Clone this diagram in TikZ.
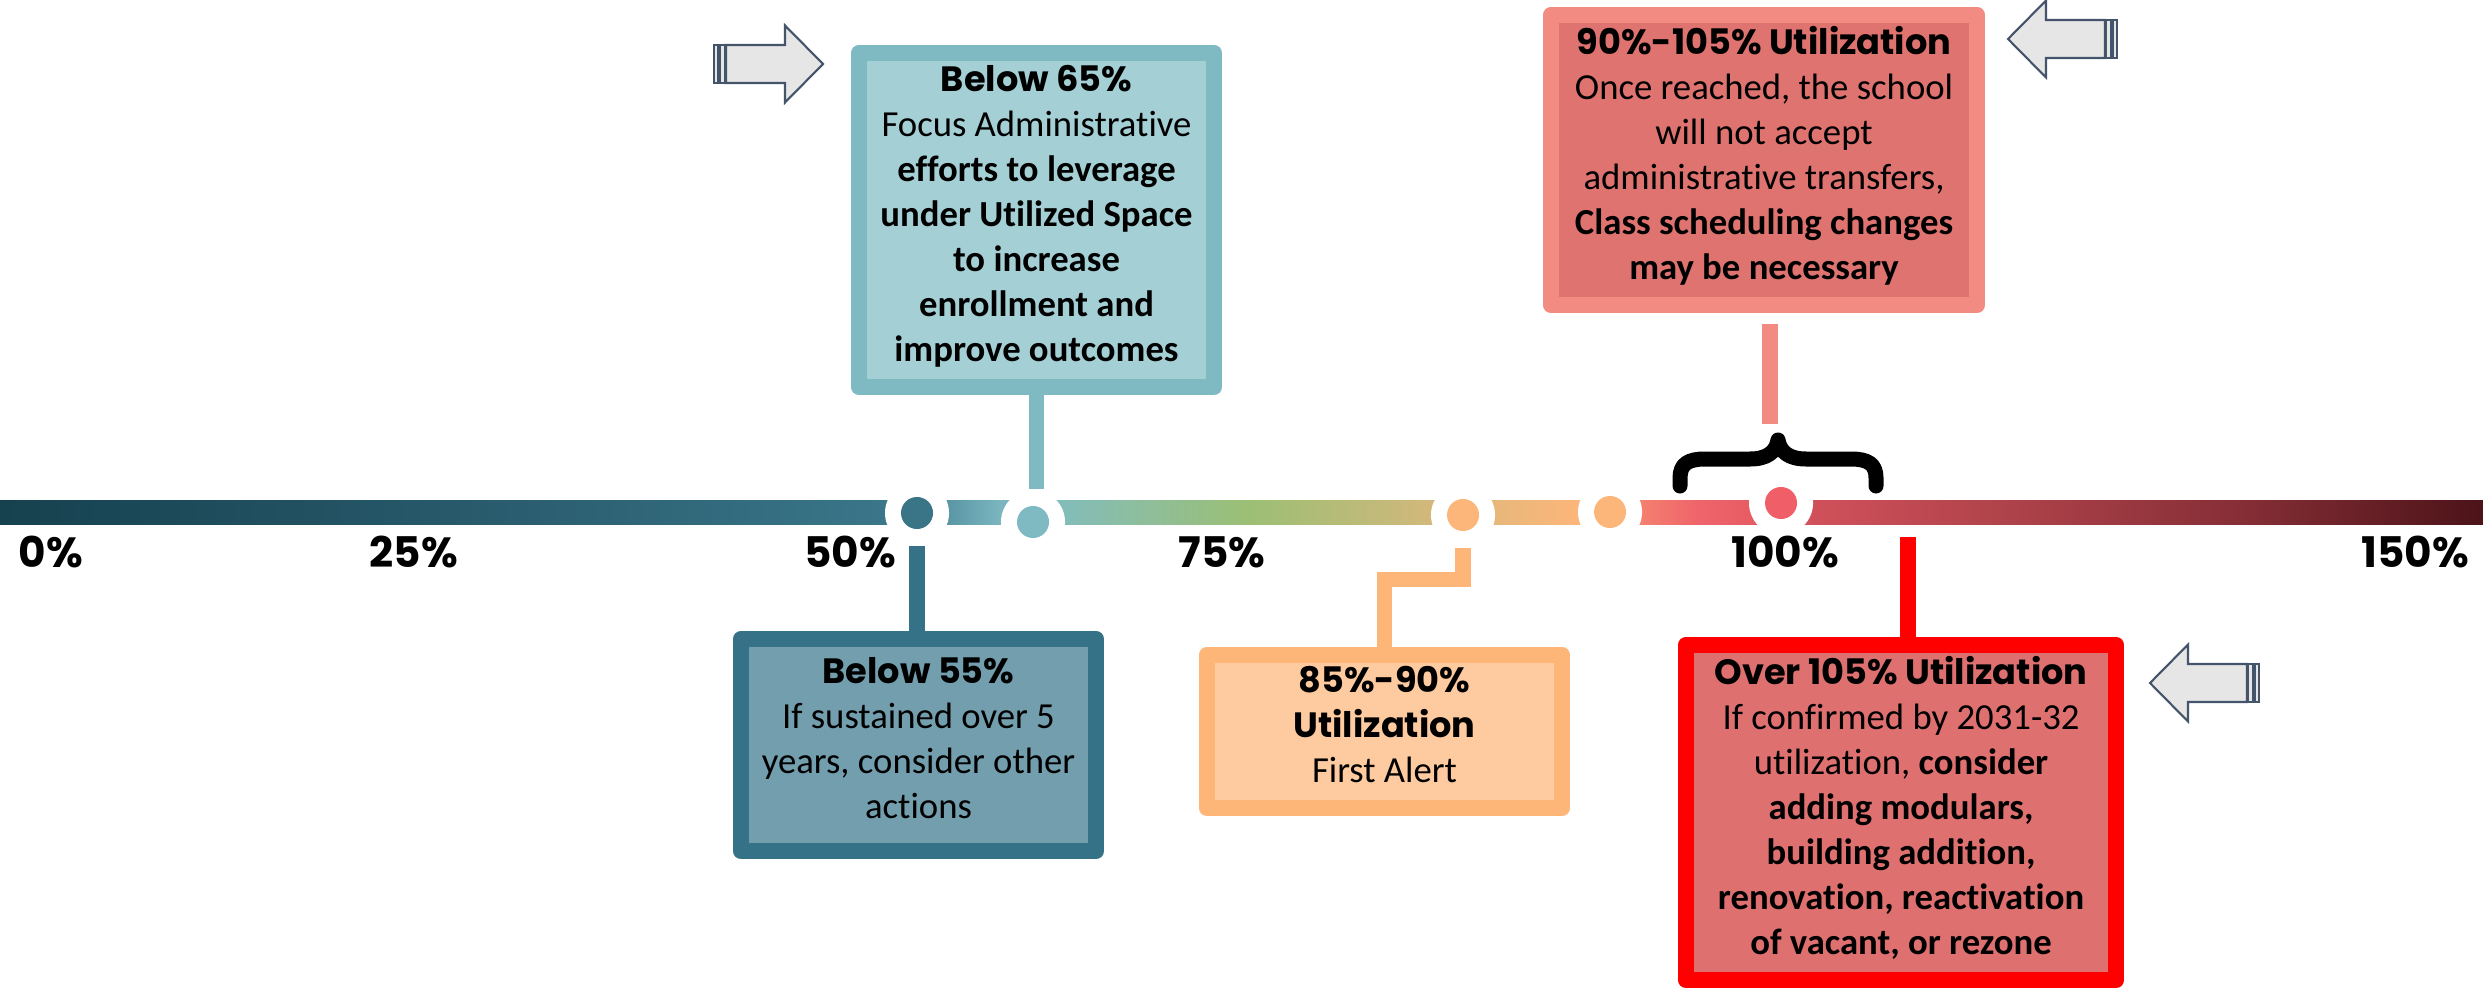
\documentclass[tikz,border=0pt]{standalone}
\usepackage{fontspec}
\setmainfont{Carlito}[RawFeature={-liga}]
\newfontfamily\titlef{Poppins}
\newfontfamily\bodyf{Carlito}[RawFeature={-liga}]
\definecolor{s0}{HTML}{16414F}
\definecolor{s1}{HTML}{27596A}
\definecolor{s2}{HTML}{3A7589}
\definecolor{s3}{HTML}{5C97A6}
\definecolor{s4}{HTML}{7AB5C0}
\definecolor{s5}{HTML}{83BDB8}
\definecolor{s6}{HTML}{9CBF74}
\definecolor{s7}{HTML}{C8B97A}
\definecolor{s8}{HTML}{E9B77A}
\definecolor{s9}{HTML}{FDB67A}
\definecolor{s10}{HTML}{F47D6F}
\definecolor{s11}{HTML}{EF636A}
\definecolor{s12}{HTML}{E65A62}
\definecolor{s13}{HTML}{D0505A}
\definecolor{s14}{HTML}{B0434B}
\definecolor{s15}{HTML}{842D35}
\definecolor{s16}{HTML}{4B1318}
\definecolor{tealB}{HTML}{7FBAC3}
\definecolor{tealF}{HTML}{A4CFD5}
\definecolor{dtealB}{HTML}{367287}
\definecolor{dtealF}{HTML}{729EAE}
\definecolor{orB}{HTML}{FDB578}
\definecolor{orF}{HTML}{FDCB9F}
\definecolor{pkB}{HTML}{F28C82}
\definecolor{pkF}{HTML}{DE7370}
\definecolor{rdB}{HTML}{FF0000}
\definecolor{rdF}{HTML}{DF7070}
\definecolor{dotA}{HTML}{3A7487}
\definecolor{dotR}{HTML}{F05F68}
\definecolor{arrS}{HTML}{44546A}
\definecolor{arrF}{HTML}{E6E6E6}
\pgfdeclarehorizontalshading{barshade}{100bp}{color(0bp)=(s0); color(25bp)=(s0); color(34.06bp)=(s1); color(42.72bp)=(s2); color(44.13bp)=(s3); color(45.14bp)=(s4); color(46.47bp)=(s5); color(50.17bp)=(s6); color(53.19bp)=(s7); color(55.21bp)=(s8); color(56.82bp)=(s9); color(58.13bp)=(s10); color(59.23bp)=(s11); color(60.44bp)=(s12); color(61.55bp)=(s13); color(65.27bp)=(s14); color(70.31bp)=(s15); color(75bp)=(s16); color(100bp)=(s16)}
\newcommand{\ttl}[1]{{\titlef\bfseries\fontsize{10pt}{12.8pt}\selectfont #1}}
\tikzset{
  boxstyle/.style={draw, line width=0.16cm, line join=round, inner sep=0pt, align=center,
    font=\bodyf\fontsize{10.44pt}{12.8pt}\selectfont,
    execute at begin node=\strut, execute at end node=\strut},
  halo/.style={circle, fill=white, inner sep=0pt, minimum size=0.64cm},
  dot/.style={circle, inner sep=0pt, minimum size=0.32cm},
  conn/.style={line width=0.155cm},
  axislabel/.style={anchor=base, font=\titlef\bfseries\fontsize{12pt}{14pt}\selectfont},
  arrowline/.style={draw=arrS, fill=arrF, line width=0.6pt},
  striparrow/.pic={
    \path[arrowline] (0,-19) rectangle (4,19);
    \path[arrowline] (6,-19) rectangle (11,19);
    \path[arrowline] (12,-19) -- (71,-19) -- (71,-38.5) -- (109,0) -- (71,38.5) -- (71,19) -- (12,19) -- cycle;
  }
}
\begin{document}
\begin{tikzpicture}[x=0.01cm, y=-0.01cm]
\useasboundingbox (0,0) rectangle (2483,988);
\fill[white] (0,0) rectangle (2483,988);
% gradient bar
\shade[shading=barshade] (0,500) rectangle (2483,524);
% halos and dots
\node[halo] (h1) at (917,513) {};
\node[halo] (h2) at (1033,522) {};
\node[halo] (h3) at (1463,515) {};
\node[halo] (h4) at (1610,512) {};
\node[halo] (h5) at (1781,503) {};
\node[dot, fill=dotA] (d1) at (h1) {};
\node[dot, fill=tealB] (d2) at (h2) {};
\node[dot, fill=s9] (d3) at (h3) {};
\node[dot, fill=s9] (d4) at (h4) {};
\node[dot, fill=dotR] (d5) at (h5) {};
% axis labels
\node[axislabel] (l0) at (51,567) {0\%};
\node[axislabel] (l25) at (414,567) {25\%};
\node[axislabel] (l50) at (850,567) {50\%};
\node[axislabel] (l75) at (1222,567) {75\%};
\node[axislabel] (l100) at (1785,567) {100\%};
\node[axislabel] (l150) at (2415,567) {150\%};
% boxes
\node[boxstyle, draw=tealB, fill=tealF, minimum width=3.55cm, minimum height=3.34cm] (bA) at (1036.5,220)
  {\ttl{Below 65\%}\\ Focus Administrative\\ \textbf{efforts to leverage}\\ \textbf{under Utilized Space}\\ \textbf{to increase}\\ \textbf{enrollment and}\\ \textbf{improve outcomes}};
\node[boxstyle, draw=pkB, fill=pkF, minimum width=4.26cm, minimum height=2.90cm] (bD) at (1764,160)
  {\ttl{90\%-105\% Utilization}\\ Once reached, the school\\ will not accept\\ administrative transfers,\\ \textbf{Class scheduling changes}\\ \textbf{may be necessary}};
\node[boxstyle, draw=dtealB, fill=dtealF, minimum width=3.55cm, minimum height=2.12cm] (bB) at (918.5,745)
  {\ttl{Below 55\%}\\ If sustained over 5\\ years, consider other\\ actions};
\node[boxstyle, draw=orB, fill=orF, minimum width=3.55cm, minimum height=1.53cm] (bC) at (1384.5,731.5)
  {\ttl{85\%-90\%}\\ \ttl{Utilization}\\ First Alert};
\node[boxstyle, draw=rdB, fill=rdF, minimum width=4.30cm, minimum height=3.35cm] (bE) at (1901,812.5)
  {\ttl{Over 105\% Utilization}\\ If confirmed by 2031-32\\ utilization, \textbf{consider}\\ \textbf{adding modulars,}\\ \textbf{building addition,}\\ \textbf{renovation, reactivation}\\ \textbf{of vacant, or rezone}};
% connectors
\draw[conn, draw=tealB] (bA.south) -- (bA.south |- h2.north);
\draw[conn, draw=dtealB] (h1.south) -- (h1.south |- bB.north);
\draw[conn, draw=orB] (h3.south) -- ++(0,32) -| (bC.north);
\coordinate (dtop) at (1770,324);
\coordinate (dbot) at (1770,424);
\draw[conn, draw=pkB] (dtop) -- (dbot);
\coordinate (etop) at (1908,537);
\draw[conn, draw=rdB] (etop) -- (etop |- bE.north);
% brace
\draw[line width=0.15cm, line cap=round, line join=round]
  (1680,486) -- (1680,478) .. controls (1680,464) and (1688,459) .. (1705,459)
  -- (1750,459) .. controls (1767,459) and (1776,452) .. (1778,440)
  .. controls (1780,452) and (1789,459) .. (1806,459)
  -- (1851,459) .. controls (1868,459) and (1876,464) .. (1876,478) -- (1876,486);
% striped arrows
\pic at (714,64) {striparrow};
\pic[xscale=-1] at (2117,39) {striparrow};
\pic[xscale=-1] at (2259,683) {striparrow};
\end{tikzpicture}
\end{document}
